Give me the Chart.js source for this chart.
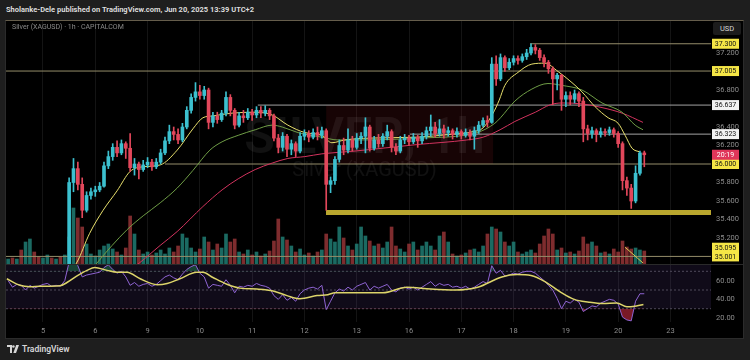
<!DOCTYPE html>
<html lang="en">
<head>
<meta charset="utf-8">
<title>Silver (XAGUSD) 1h</title>
<script src="https://cdn.jsdelivr.net/npm/chart.js@4.4.1/dist/chart.umd.min.js"></script>
<style>
  html, body { margin: 0; padding: 0; }
  body { width: 750px; height: 360px; background: #1e1e1e; position: relative; overflow: hidden;
         font-family: Roboto, 'Open Sans', sans-serif; }
  .abs { position: absolute; }
  #header { left: 6px; top: 5px; color: #dcdcdc; font-size: 7.5px; font-weight: 700; white-space: nowrap; }
  #frame { left: 5px; top: 20px; width: 737px; height: 317px; background: #000;
           border: 1px solid #2b2b2b; border-top-color: #655d4b; }
  #priceChart { left: 6px; top: 21px; }
  #rsiChart { left: 6px; top: 265px; }
  #paneSep { left: 6px; top: 264px; width: 737px; height: 1px; background: #2a2a2a; }
  #legend { left: 12px; top: 23px; color: #8a8a8a; font-size: 7px; white-space: nowrap; }
  #usd { left: 713px; top: 22px; width: 28px; height: 13px; line-height: 13px; background: #1c1c1c;
         border-radius: 2px; color: #d6d6d6; font-size: 7.5px; text-align: center; }
  #footer { left: 7px; top: 344px; color: #d6d6d6; font-size: 8.5px; font-weight: 600;
            display: flex; align-items: center; gap: 3px; }
</style>
</head>
<body>
<div id="header" class="abs">Sholanke-Dele published on TradingView.com, Jun 20, 2025 13:39 UTC+2</div>
<div id="frame" class="abs"></div>
<canvas id="priceChart" class="abs" width="737" height="243"></canvas>
<div id="paneSep" class="abs"></div>
<canvas id="rsiChart" class="abs" width="737" height="73"></canvas>
<div id="legend" class="abs">Silver (XAGUSD) · 1h · CAPITALCOM</div>
<div id="usd" class="abs">USD</div>
<div id="footer" class="abs">
  <svg width="12" height="8" viewBox="0 0 12 8"><path d="M0 0h5v8H3V2H0z" fill="#d6d6d6"/><circle cx="6.4" cy="1.5" r="1.3" fill="#d6d6d6"/><path d="M9.2 0H12L9 8H6.3z" fill="#d6d6d6"/></svg>
  <span>TradingView</span>
</div>
<script>
// Silver (XAGUSD) 1h snapshot, redrawn with Chart.js.
// One bar = 2h bucket, 12 bars per session day, bar 0 = start of the 5th.

const firstBar = -8;
const firstOpen = 34.70;

const closes = [
  34.72,34.70,34.74,34.68,34.73,34.77,34.74,34.71,34.76,34.79,34.75,34.80,34.77,34.82,
  35.80,35.95,35.78,35.50,35.66,35.70,35.72,35.76,
  35.98,36.08,36.18,36.12,36.22,36.17,35.96,36.00,35.94,35.99,
  36.02,35.97,36.02,36.12,36.25,36.35,36.32,36.26,36.40,36.58,36.72,36.78,
  36.74,36.80,36.45,36.52,36.48,36.55,36.72,36.58,36.42,36.52,36.50,36.56,
  36.53,36.58,36.55,36.58,36.52,36.28,36.18,36.30,36.16,36.22,36.14,36.30,
  36.33,36.29,36.34,36.31,36.36,35.78,35.82,36.05,36.20,36.15,36.26,36.18,
  36.28,36.30,36.40,36.17,36.26,36.22,36.30,36.35,36.18,36.14,36.26,36.28,
  36.24,36.29,36.25,36.30,36.36,36.40,36.33,36.38,36.34,36.36,36.32,36.35,
  36.31,36.34,36.30,36.36,36.42,36.47,36.45,37.08,36.92,37.15,37.04,37.10,
  37.14,37.12,37.16,37.20,37.26,37.23,37.15,37.10,37.03,36.92,36.96,36.70,
  36.74,36.70,36.76,36.68,36.38,36.33,36.36,36.32,36.35,36.34,36.37,36.33,
  36.22,35.82,35.74,35.60,35.90,36.12,36.10
];
const highs = [
  34.76,34.75,34.78,34.75,34.77,34.81,34.79,34.76,34.80,34.84,34.81,34.85,34.83,34.86,
  35.85,36.06,36.02,35.85,35.70,35.74,35.76,35.80,
  36.02,36.14,36.22,36.25,36.26,36.24,36.33,36.06,36.02,36.04,
  36.07,36.05,36.06,36.16,36.29,36.42,36.40,36.38,36.44,36.62,36.76,36.88,
  36.85,36.84,36.82,36.56,36.56,36.58,36.78,36.75,36.60,36.56,36.58,36.60,
  36.59,36.62,36.62,36.63,36.60,36.54,36.32,36.34,36.32,36.26,36.24,36.34,
  36.37,36.36,36.38,36.40,36.40,36.38,35.86,36.08,36.26,36.28,36.38,36.30,
  36.33,36.34,36.50,36.42,36.30,36.32,36.33,36.42,36.37,36.22,36.30,36.32,
  36.31,36.33,36.31,36.34,36.40,36.53,36.45,36.48,36.42,36.40,36.38,36.39,
  36.37,36.38,36.37,36.40,36.46,36.50,36.52,37.15,37.17,37.19,37.17,37.14,
  37.17,37.17,37.19,37.24,37.30,37.29,37.25,37.18,37.12,37.05,36.98,36.97,
  36.78,36.78,36.80,36.78,36.72,36.42,36.40,36.38,36.39,36.38,36.40,36.39,
  36.35,36.24,35.86,35.78,35.98,36.14,36.14
];
const lows = [
  34.66,34.66,34.68,34.64,34.66,34.71,34.70,34.67,34.70,34.74,34.71,34.74,34.73,34.75,
  34.80,35.70,35.72,35.42,35.48,35.62,35.65,35.70,
  35.75,35.95,36.04,36.08,36.10,36.06,35.92,35.88,35.84,35.92,
  35.96,35.93,35.95,36.00,36.10,36.22,36.26,36.22,36.24,36.38,36.55,36.68,
  36.70,36.70,36.38,36.40,36.44,36.46,36.52,36.52,36.38,36.40,36.45,36.48,
  36.47,36.50,36.50,36.52,36.48,36.25,36.12,36.14,36.08,36.10,36.08,36.12,
  36.26,36.24,36.27,36.26,36.28,35.50,35.69,35.78,36.02,36.10,36.12,36.14,
  36.16,36.22,36.12,36.14,36.15,36.18,36.19,36.26,36.13,36.10,36.12,36.22,
  36.20,36.22,36.18,36.22,36.27,36.30,36.29,36.30,36.28,36.30,36.27,36.29,
  36.27,36.29,36.26,36.16,36.33,36.40,36.40,36.44,36.85,36.90,37.00,37.02,
  37.07,37.08,37.10,37.13,37.18,37.19,37.12,37.05,36.98,36.64,36.80,36.58,
  36.62,36.64,36.66,36.62,36.24,36.26,36.28,36.24,36.29,36.30,36.31,36.29,
  36.18,35.72,35.66,35.52,35.58,35.88,35.97
];
const volumes = [
  5,6,5,14,22,25,12,7,6,9,6,5,7,9,
  27,56,46,37,20,10,8,14,
  18,20,15,12,9,16,48,30,14,10,
  12,9,11,14,10,16,12,18,30,26,16,12,
  15,27,22,14,20,16,30,22,25,12,10,14,
  9,12,8,10,13,23,45,27,24,18,12,15,
  9,11,8,12,14,30,25,22,37,26,18,14,
  20,37,28,23,18,20,16,22,37,18,15,12,
  20,22,14,18,22,18,14,28,32,22,10,8,
  9,11,14,15,12,18,30,37,35,32,22,18,
  22,12,10,12,14,11,20,28,35,30,14,16,
  11,12,10,13,27,20,22,18,11,12,10,15,
  12,23,17,15,16,14,13
];
const rsiValues = [
  60,53,56,55,50,55,52,54,56,57,54,55,54,60,
  80,82,76,64,66,67,68,69,
  74,77,72,68,70,64,55,58,54,56,
  57,54,56,60,64,66,63,61,67,72,75,77,
  68,64,52,56,55,54,61,55,47,54,53,55,
  54,57,55,54,52,44,40,45,39,42,38,46,
  50,52,53,51,55,29,38,47,51,49,53,50,
  54,56,58,50,54,52,54,56,50,48,52,53,
  51,53,50,53,56,59,54,57,55,56,53,54,
  52,54,51,53,56,59,57,76,68,71,65,66,
  68,67,69,70,70,68,64,60,55,50,41,30,
  38,36,40,37,27,30,33,32,36,38,40,39,
  35,21,18,17,38,46,46
];

// moving averages, read as [bar, price]
const maFast = [[5,34.78],[7.7,34.93],[10.7,35.25],[13.8,35.50],[17,35.71],[20,35.92],[23,35.97],[26.9,35.99],
  [30.8,36.15],[34.4,36.38],[36.7,36.50],[39,36.52],[43.4,36.55],[48.7,36.56],[52.6,36.53],[56.2,36.42],
  [60.1,36.34],[64,36.31],[66.3,36.23],[69.3,36.26],[75,36.28],[85.8,36.29],[93.4,36.32],[98.7,36.35],
  [101,36.39],[103.3,36.55],[104.7,36.69],[106,36.85],[109,36.99],[112.2,37.08],[115.2,37.09],[118.2,37.00],
  [121.4,36.88],[123.7,36.78],[126.7,36.62],[129.7,36.50],[132,36.44],[133.6,36.31],[135.2,36.17],[137,36.13]];
const maMid = [[9,34.72],[12.4,34.93],[19.3,35.29],[23,35.44],[26.9,35.58],[30.8,35.74],[34.4,35.93],[38.3,36.15],
  [41.1,36.24],[44.8,36.31],[48.7,36.37],[52.6,36.42],[54.9,36.40],[58.5,36.34],[64,36.29],[67.7,36.26],
  [71.6,36.26],[86.5,36.28],[99.6,36.34],[103.7,36.44],[105,36.50],[108.3,36.68],[112.2,36.81],[115.9,36.87],
  [119.1,36.85],[123.7,36.80],[128.3,36.66],[132.9,36.56],[135.9,36.42],[137.7,36.37]];
const maSlow = [[15,34.70],[22.1,34.93],[26.9,35.12],[30.8,35.27],[36.7,35.54],[41.1,35.72],[44.8,35.84],[48.7,35.94],
  [52.6,36.01],[56.2,36.06],[60.1,36.08],[64,36.11],[71.6,36.14],[85.8,36.21],[97.3,36.26],[101,36.29],
  [104.9,36.37],[108.3,36.46],[113,36.56],[116.4,36.64],[119.1,36.66],[123.7,36.65],[128.3,36.61],[132.9,36.55],[137.7,36.45]];
const rsiMa = [[-8.3,62],[-5.3,55],[-3,53.5],[-0.7,54],[3.9,54.5],[5.5,58],[7.8,65],[10.1,71],[11.9,74],[14.7,71],
  [17,69],[19.3,69],[22.3,62],[26.2,55.7],[28.5,57],[31.4,62],[35.3,69],[36.7,69],[39,63.4],[42.2,56.2],
  [45.2,52],[49.1,51],[52.8,49],[56,44],[59,40.6],[62.9,44],[65.4,45],[67,47],[78,47],[83.5,53],[89,51],
  [94.6,50],[99.8,53],[105.3,64],[108.8,66.6],[112,65.5],[115.2,59],[118.7,48],[121.9,40],[125.3,37],
  [128.5,35.5],[131.7,36],[134,32],[136.2,33],[137.8,34.5]];

const dayTicks = [0, 12, 24, 36, 48, 60, 72, 84, 96, 108, 120, 132, 144];
const dayLabels = ['5', '6', '9', '10', '11', '12', '13', '16', '17', '18', '19', '20', '23'];
const priceTicks = [35.2, 35.4, 35.6, 35.8, 36.0, 36.2, 36.4, 36.6, 36.8, 37.0, 37.2];
const rsiTicks = [20, 40, 60];
const rsiLevels = [70, 50, 30];

// drawn levels: price and the bar they start from
const levelPrices = [37.300, 37.005, 36.637, 36.323, 36.000, 35.001];
const levelStarts = [111.8, -8.49, 49.3, 84.2, 28, -8.49];
const greyLevels = [36.637, 36.323];
const supportBand = [35.449, 35.503];
const bandStart = 64.95;
const rangeBox = [65, 103.3, 36.000, 36.637];
const trendLine = [[133.6, 35.10], [137.7, 34.93]];
const trendBadge = 35.095;
const countdown = '20:19';

Chart.defaults.font.family = "Roboto, 'Open Sans', sans-serif";
Chart.defaults.color = '#8c8c8c';

const UP = '#3cc0cf';
const DOWN = '#e2475b';
const TAN = '#958d6a';
const GREY = '#a3a3a3';
const xMin = -8.49, xMax = 153.31;

const candles = closes.map((c, k) => ({
  x: firstBar + k,
  o: k === 0 ? firstOpen : closes[k - 1],
  h: highs[k], l: lows[k], c
}));
const candleColor = candles.map(b => b.c >= b.o ? UP : DOWN);
const volColor = candles.map(b => b.c >= b.o ? 'rgba(34,132,122,0.8)' : 'rgba(158,55,57,0.8)');

const toPoints = arr => arr.map(([x, y]) => ({ x, y }));
const flat = (from, y) => [{ x: from, y }, { x: xMax, y }];

function timeScale(showLabels) {
  return {
    type: 'linear', min: xMin, max: xMax, offset: false,
    afterBuildTicks: s => { s.ticks = dayTicks.map(v => ({ value: v })); },
    afterFit: s => { s.height = showLabels ? 16 : 0; s.paddingLeft = 0; s.paddingRight = 0; },
    grid: { color: '#141414', drawTicks: false, offset: false },
    border: { display: false },
    ticks: { display: showLabels, autoSkip: false, maxRotation: 0, padding: 5, font: { size: 7.5 },
             callback: v => dayLabels[dayTicks.indexOf(v)] }
  };
}

function sideScale(min, max, ticks, digits) {
  return {
    position: 'right', min, max,
    afterBuildTicks: s => { s.ticks = ticks.map(v => ({ value: v })); },
    afterFit: s => { s.width = 32; s.paddingTop = 0; s.paddingBottom = 0; },
    grid: { display: false, drawTicks: false },
    border: { display: false },
    ticks: { autoSkip: false, padding: 5, font: { size: 7.5 }, callback: v => v.toFixed(digits) }
  };
}

function baseOptions(scales) {
  return {
    responsive: false, animation: false, devicePixelRatio: 1, events: [],
    layout: { padding: 0 },
    plugins: { legend: { display: false }, tooltip: { enabled: false } },
    scales
  };
}

const line = (data, color, width, order, extra) => Object.assign({
  type: 'line', data, borderColor: color, borderWidth: width, pointRadius: 0, order,
  cubicInterpolationMode: 'monotone'
}, extra || {});

// range box + symbol watermark behind the candles
const backdrop = {
  id: 'backdrop',
  beforeDatasetsDraw(chart) {
    const { ctx, chartArea, scales } = chart;
    const x0 = scales.x.getPixelForValue(rangeBox[0]);
    const x1 = scales.x.getPixelForValue(rangeBox[1]);
    const y0 = scales.y.getPixelForValue(rangeBox[2]);
    const y1 = scales.y.getPixelForValue(rangeBox[3]);
    const cx = (chartArea.left + chartArea.right) / 2 + 6;
    ctx.save();
    ctx.fillStyle = 'rgba(140,25,30,0.16)';
    ctx.fillRect(x0, y1, x1 - x0, y0 - y1);
    ctx.fillStyle = 'rgba(255,255,255,0.065)';
    ctx.textAlign = 'center';
    ctx.font = '600 50px Roboto';
    ctx.fillText('SILVER, 1h', cx, 132);
    ctx.font = '20px Roboto';
    ctx.fillText('Silver (XAGUSD)', cx, 155);
    ctx.restore();
  }
};

const badges = levelPrices.map(p => ({
  value: p, text: p.toFixed(3), bg: greyLevels.includes(p) ? '#f2f2f2' : '#f5e646', fg: '#111'
})).concat([
  { value: trendBadge, text: trendBadge.toFixed(3), bg: '#f5e646', fg: '#111' },
  { value: closes[closes.length - 1], text: countdown, bg: '#e0365a', fg: '#fff' }
]);

const badgePlugin = {
  id: 'badges',
  afterDraw(chart) {
    const { ctx, chartArea, scales } = chart;
    ctx.save();
    ctx.font = '7px Roboto';
    ctx.textAlign = 'center';
    ctx.textBaseline = 'middle';
    badges.forEach(b => {
      const y = scales.y.getPixelForValue(b.value);
      const x = chartArea.right + 1;
      ctx.fillStyle = b.bg;
      ctx.fillRect(x, y - 5, 27, 10);
      ctx.fillStyle = b.fg;
      ctx.fillText(b.text, x + 13.5, y + 0.5);
    });
    ctx.restore();
  }
};

const priceSets = [
  { type: 'bar', data: candles.map(b => ({ x: b.x, y: [b.o, b.c] })), backgroundColor: candleColor,
    barThickness: 3, minBarLength: 1, grouped: false, borderWidth: 0, clip: 0, order: 1 },
  { type: 'bar', data: candles.map(b => ({ x: b.x, y: [b.l, b.h] })), backgroundColor: candleColor,
    barThickness: 1, grouped: false, borderWidth: 0, clip: 0, order: 2 },
  line(toPoints(maFast), '#e8e06d', 1, 3),
  line(toPoints(maMid), '#6f9d46', 1, 3),
  line(toPoints(maSlow), '#d2335e', 1, 3),
  line(flat(bandStart, (supportBand[0] + supportBand[1]) / 2), '#b9a72e', 5, 4),
  line(toPoints(trendLine), '#d9cf52', 1, 4),
  { type: 'bar', data: volumes.map((v, k) => ({ x: firstBar + k, y: v })), backgroundColor: volColor,
    barThickness: 3, grouped: false, borderWidth: 0, clip: 0, yAxisID: 'yVol', order: 20 }
];
levelPrices.forEach((p, k) => {
  priceSets.push(line(flat(levelStarts[k], p), greyLevels.includes(p) ? GREY : TAN, 1, 5));
});

new Chart(document.getElementById('priceChart'), {
  type: 'line',
  data: { datasets: priceSets },
  options: baseOptions({
    x: timeScale(false),
    y: sideScale(34.919, 37.546, priceTicks, 3),
    yVol: { axis: 'y', position: 'left', display: false, min: 0, max: 243 }
  }),
  plugins: [backdrop, badgePlugin]
});

const rsiPoints = rsiValues.map((v, k) => ({ x: firstBar + k, y: v }));
const rsiSets = [
  line(rsiPoints, '#8e63d2', 1, 2, {
    cubicInterpolationMode: 'default',
    fill: { target: { value: 70 }, above: 'rgba(38,150,90,0.4)', below: 'rgba(0,0,0,0)' }
  }),
  line(rsiPoints, 'rgba(0,0,0,0)', 0, 3, {
    cubicInterpolationMode: 'default',
    fill: { target: { value: 30 }, above: 'rgba(0,0,0,0)', below: 'rgba(220,45,70,0.55)' }
  }),
  line(toPoints(rsiMa), '#dcd46a', 1.5, 1),
  line(flat(xMin, 30), 'rgba(0,0,0,0)', 0, 9, { fill: 'end', backgroundColor: 'rgba(126,87,194,0.13)' })
];
rsiLevels.forEach(v => {
  rsiSets.push(line(flat(xMin, v), '#4f4a5a', 1, 5, { borderDash: [2, 2] }));
});

new Chart(document.getElementById('rsiChart'), {
  type: 'line',
  data: { datasets: rsiSets },
  options: baseOptions({
    x: timeScale(true),
    y: sideScale(15.78, 76.74, rsiTicks, 2)
  })
});
</script>
</body>
</html>
